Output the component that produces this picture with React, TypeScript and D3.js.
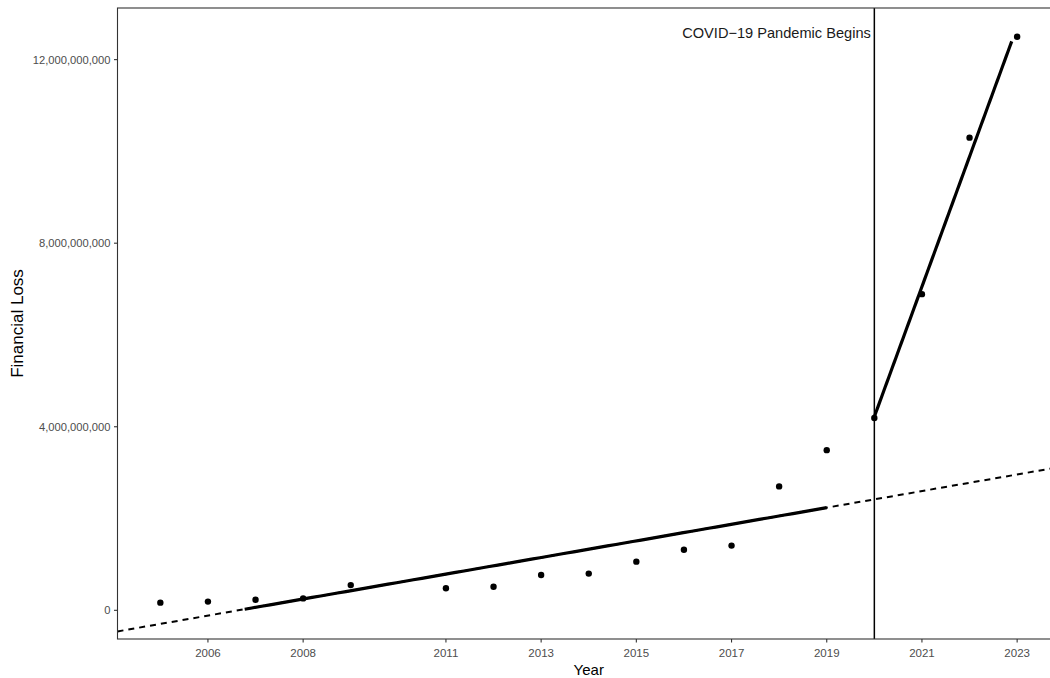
import React from 'react';
import * as d3 from 'd3';

// yearly financial loss (no 2010 record)
const years = [2005, 2006, 2007, 2008, 2009, 2011, 2012, 2013, 2014, 2015, 2016, 2017, 2018, 2019, 2020, 2021, 2022, 2023];
const losses = [
  0.167e9, 0.19e9, 0.23e9, 0.26e9, 0.55e9, 0.48e9, 0.515e9, 0.77e9, 0.8e9,
  1.06e9, 1.32e9, 1.41e9, 2.7e9, 3.49e9, 4.19e9, 6.89e9, 10.3e9, 12.5e9,
];
const pandemicYear = 2020;
const pandemicLabel = 'COVID\u221219 Pandemic Begins';
const xTicks = [2006, 2008, 2011, 2013, 2015, 2017, 2019, 2021, 2023];
const yTicks = [0, 4e9, 8e9, 12e9];

const W = 1050;
const H = 678;
const panel = { left: 117.5, top: 8, bottom: 639 };
const pxPerYear = 47.6;
const font = '"Liberation Sans", Arial, Helvetica, sans-serif';

type Pt = { x: number; y: number };

// ordinary least squares
const fit = (pts: Pt[]) => {
  const mx = d3.mean(pts, d => d.x)!;
  const my = d3.mean(pts, d => d.y)!;
  const sxy = d3.sum(pts, d => (d.x - mx) * (d.y - my));
  const sxx = d3.sum(pts, d => (d.x - mx) ** 2);
  const slope = sxy / sxx;
  return { slope, intercept: my - slope * mx };
};

export default function App() {
  const data: Pt[] = years.map((x, i) => ({ x, y: losses[i] }));
  const pre = data.filter(d => d.x < pandemicYear);
  const post = data.filter(d => d.x >= pandemicYear);

  const xMin = d3.min(years)!;
  const xMax = d3.max(years)!;
  const xPad = (xMax - xMin) * 0.05;
  const x0 = xMin - xPad;
  const x1 = xMax + xPad;
  const x = d3.scaleLinear().domain([x0, x1]).range([panel.left, panel.left + (x1 - x0) * pxPerYear]);
  const panelRight = x(x1);

  const yLimit = d3.max(losses)!;
  const y = d3.scaleLinear()
    .domain([-0.05 * yLimit, 1.05 * yLimit])
    .range([panel.bottom, panel.top]);

  const line = d3.line<Pt>().x(d => x(d.x)).y(d => y(d.y));

  // smooth-like segment: 80 points over the data span, dropped outside the y limits
  const smooth = (pts: Pt[]) => {
    const m = fit(pts);
    const a = d3.min(pts, d => d.x)!;
    const b = d3.max(pts, d => d.x)!;
    return d3.range(80)
      .map(i => a + (i * (b - a)) / 79)
      .map(xv => ({ x: xv, y: m.intercept + m.slope * xv }))
      .filter(d => d.y >= 0 && d.y <= yLimit);
  };

  const preFit = fit(pre);
  const trend: Pt[] = [x0, x1].map(xv => ({ x: xv, y: preFit.intercept + preFit.slope * xv }));

  const fmt = d3.format(',');

  return (
    <svg width={W} height={H} style={{ position: 'absolute', left: 0, top: 0, background: '#fff' }}>
      <defs>
        <clipPath id="panel">
          <rect x={panel.left} y={panel.top} width={panelRight - panel.left} height={panel.bottom - panel.top} />
        </clipPath>
      </defs>

      <g clipPath="url(#panel)">
        <path d={line(trend)!} fill="none" stroke="#000" strokeWidth={2} strokeDasharray="6,5" />
        <path d={line(smooth(pre))!} fill="none" stroke="#000" strokeWidth={3.2} />
        <path d={line(smooth(post))!} fill="none" stroke="#000" strokeWidth={3.2} />
        <line x1={x(pandemicYear)} x2={x(pandemicYear)} y1={panel.top} y2={panel.bottom} stroke="#000" strokeWidth={1.5} />
        {data.map(d => (
          <circle key={d.x} cx={x(d.x)} cy={y(d.y)} r={3.2} fill="#000" />
        ))}
      </g>

      <text x={x(pandemicYear) - 3.5} y={32.5} dy="0.35em" textAnchor="end" fontFamily={font} fontSize={14.6} fill="#1a1a1a">
        {pandemicLabel}
      </text>

      <rect x={panel.left} y={panel.top} width={panelRight - panel.left} height={panel.bottom - panel.top}
        fill="none" stroke="#333" strokeWidth={1.1} />

      {/* x axis */}
      {xTicks.map(t => (
        <g key={t} transform={`translate(${x(t)},${panel.bottom})`}>
          <line y2={3.5} stroke="#333" strokeWidth={1.1} />
          <text y={18} textAnchor="middle" fontFamily={font} fontSize={11.5} fill="#4d4d4d">{t}</text>
        </g>
      ))}
      <text x={(panel.left + panelRight) / 2} y={674.5} textAnchor="middle" fontFamily={font} fontSize={15} fill="#000">Year</text>

      {/* y axis */}
      {yTicks.map(t => (
        <g key={t} transform={`translate(${panel.left},${y(t)})`}>
          <line x2={-3.5} stroke="#333" strokeWidth={1.1} />
          <text x={-7} dy="0.35em" textAnchor="end" fontFamily={font} fontSize={11.2} fill="#4d4d4d">{fmt(t)}</text>
        </g>
      ))}
      <text transform={`translate(23,${(panel.top + panel.bottom) / 2}) rotate(-90)`} textAnchor="middle"
        fontFamily={font} fontSize={17} fill="#000">Financial Loss</text>
    </svg>
  );
}
